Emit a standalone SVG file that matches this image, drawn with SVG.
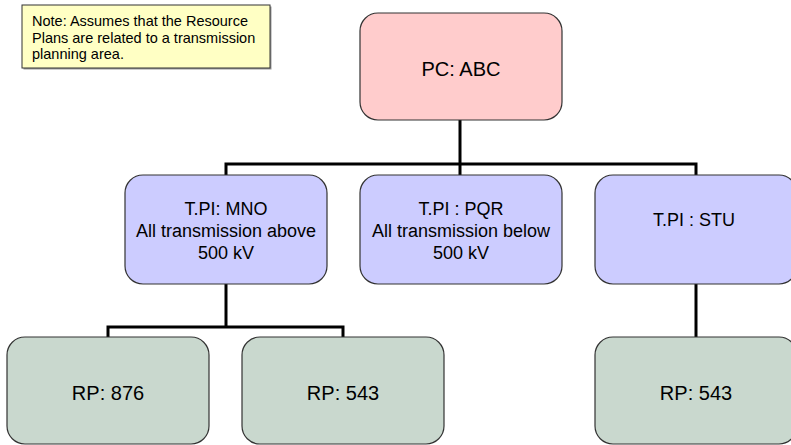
<svg xmlns="http://www.w3.org/2000/svg" width="791" height="445" viewBox="0 0 791 445">
<style>
  .box { stroke: #333333; stroke-width: 1.2; }
  .pc { fill: #FFCCCC; }
  .tp { fill: #CCCCFF; }
  .rp { fill: #C9D8CE; }
  .note { fill: #FFFFC4; stroke: #333333; stroke-width: 1; }
  .shadow { fill: #9A9A9A; }
  text { font-family: "Liberation Sans", Arial, sans-serif; fill: #000000; }
  .t20 { font-size: 20px; text-anchor: middle; }
  .t18 { font-size: 18px; text-anchor: middle; }
  .t14 { font-size: 14.5px; }
  .conn { fill: none; stroke: #000000; stroke-width: 3; }
</style>
<rect width="791" height="445" fill="#FFFFFF"/>
<g id="connectors">
  <path class="conn" d="M460,120 V175"/>
  <path class="conn" d="M226,175 V164 H696 V175"/>
  <path class="conn" d="M226,284 V327"/>
  <path class="conn" d="M108,337 V327 H343 V337"/>
  <path class="conn" d="M696,284 V337"/>
</g>
<g id="note">
  <rect class="shadow" x="23.5" y="6.5" width="248" height="63"/>
  <rect class="note" x="22" y="5" width="248" height="63"/>
  <text class="t14" x="32" y="26">Note: Assumes that the Resource</text>
  <text class="t14" x="32" y="42.5">Plans are related to a transmission</text>
  <text class="t14" x="32" y="59">planning area.</text>
</g>
<g id="pc_abc">
  <rect class="box pc" x="360" y="13" width="202" height="107" rx="18" ry="18"/>
  <text class="t20" x="461" y="76">PC: ABC</text>
</g>
<g id="tpl_mno">
  <rect class="box tp" x="125" y="175" width="202" height="109" rx="18" ry="18"/>
  <text class="t18" x="226" y="215">T.PI: MNO</text>
  <text class="t18" x="226" y="237">All transmission above</text>
  <text class="t18" x="226" y="259">500 kV</text>
</g>
<g id="tpl_pqr">
  <rect class="box tp" x="360" y="175" width="202" height="109" rx="18" ry="18"/>
  <text class="t18" x="461" y="215">T.PI : PQR</text>
  <text class="t18" x="461" y="237">All transmission below</text>
  <text class="t18" x="461" y="259">500 kV</text>
</g>
<g id="tpl_stu">
  <rect class="box tp" x="595" y="175" width="202" height="109" rx="18" ry="18"/>
  <text class="t18" x="694" y="226">T.PI : STU</text>
</g>
<g id="rp_876">
  <rect class="box rp" x="7" y="337" width="202" height="107" rx="18" ry="18"/>
  <text class="t20" x="108" y="400">RP: 876</text>
</g>
<g id="rp_543_a">
  <rect class="box rp" x="242" y="337" width="202" height="107" rx="18" ry="18"/>
  <text class="t20" x="343" y="400">RP: 543</text>
</g>
<g id="rp_543_b">
  <rect class="box rp" x="595" y="337" width="202" height="107" rx="18" ry="18"/>
  <text class="t20" x="696" y="400">RP: 543</text>
</g>
</svg>
